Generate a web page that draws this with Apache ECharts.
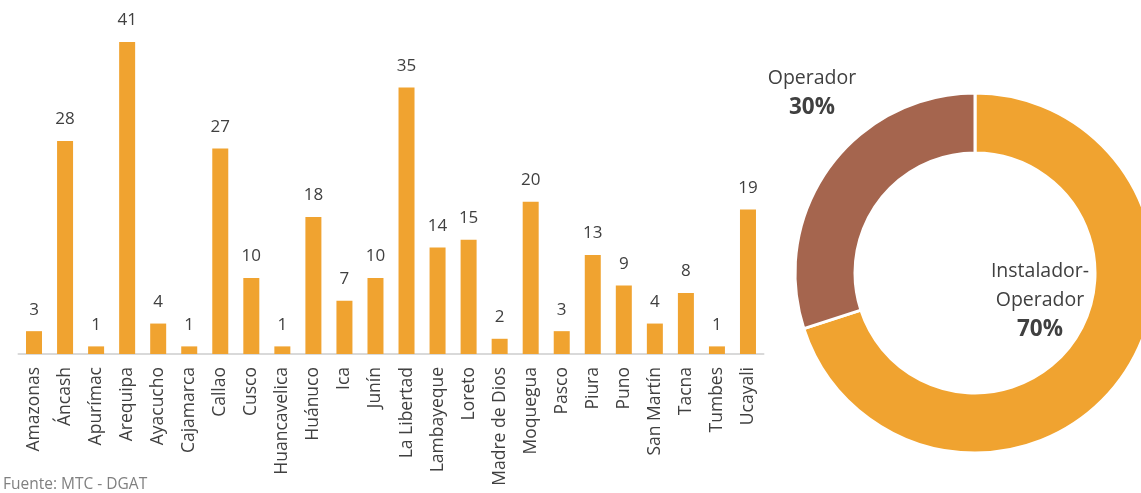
<!DOCTYPE html>
<html><head><meta charset="utf-8">
<script src="https://cdn.jsdelivr.net/npm/echarts@6/dist/echarts.min.js"></script>
<style>html,body{margin:0;padding:0;background:#fff}#c{width:1141px;height:493px}</style>
</head><body><div id="c"></div>
<script>
const regiones = ["Amazonas","Áncash","Apurímac","Arequipa","Ayacucho","Cajamarca","Callao","Cusco","Huancavelica","Huánuco","Ica","Junín","La Libertad","Lambayeque","Loreto","Madre de Dios","Moquegua","Pasco","Piura","Puno","San Martín","Tacna","Tumbes","Ucayali"];
const valores = [3,28,1,41,4,1,27,10,1,18,7,10,35,14,15,2,20,3,13,9,4,8,1,19];
const tipos = ["Instalador-\nOperador","Operador"];
const porcentajes = [70,30];
const fuente = "Fuente: MTC - DGAT";

const FONT = "'Open Sans', 'Noto Sans', sans-serif";
const chart = echarts.init(document.getElementById('c'), null, {renderer:'canvas'});
chart.setOption({
  animation:false,
  textStyle:{fontFamily:FONT},
  grid:{left:18.5, right:1141-763.5, top:11.5, bottom:493-354},
  xAxis:{type:'category', data:regiones,
    axisLine:{lineStyle:{color:'#d9d9d9', width:2}},
    axisTick:{show:false},
    axisLabel:{rotate:90, fontSize:17.5, color:'#404040', margin:13, fontFamily:FONT, interval:0}},
  yAxis:{type:'value', min:0, max:45, show:false, splitLine:{show:false}},
  graphic:[{type:'text', left:3, top:477, style:{text:fuente, fontSize:15.5, fill:'#808080', fontFamily:FONT}}],
  series:[
    {type:'bar', data:valores, barWidth:16,
     itemStyle:{color:'#F0A330'},
     label:{show:true, position:'top', distance:13, fontSize:17, color:'#404040', fontFamily:FONT}},
    {type:'pie', center:[975,273], radius:[120,180], startAngle:90, clockwise:true,
     data:tipos.map((t,i)=>({name:t, value:porcentajes[i]})),
     color:['#F0A330','#A5654E'],
     itemStyle:{borderColor:'#fff', borderWidth:3},
     label:{show:true, position:'inside', fontFamily:FONT,
       formatter:p=>p.name+'\n{b|'+p.value+'%}',
       fontSize:19.5, lineHeight:29, color:'#404040', align:'center',
       rich:{b:{fontSize:22.5, fontWeight:'bold', color:'#404040', lineHeight:30}}},
     labelLine:{show:false},
     labelLayout:function(p){
       if(p.dataIndex===0) return {x:1040, y:301, align:'center', verticalAlign:'middle'};
       return {x:812, y:93, align:'center', verticalAlign:'middle'};
     }}
  ]
});
</script></body></html>
